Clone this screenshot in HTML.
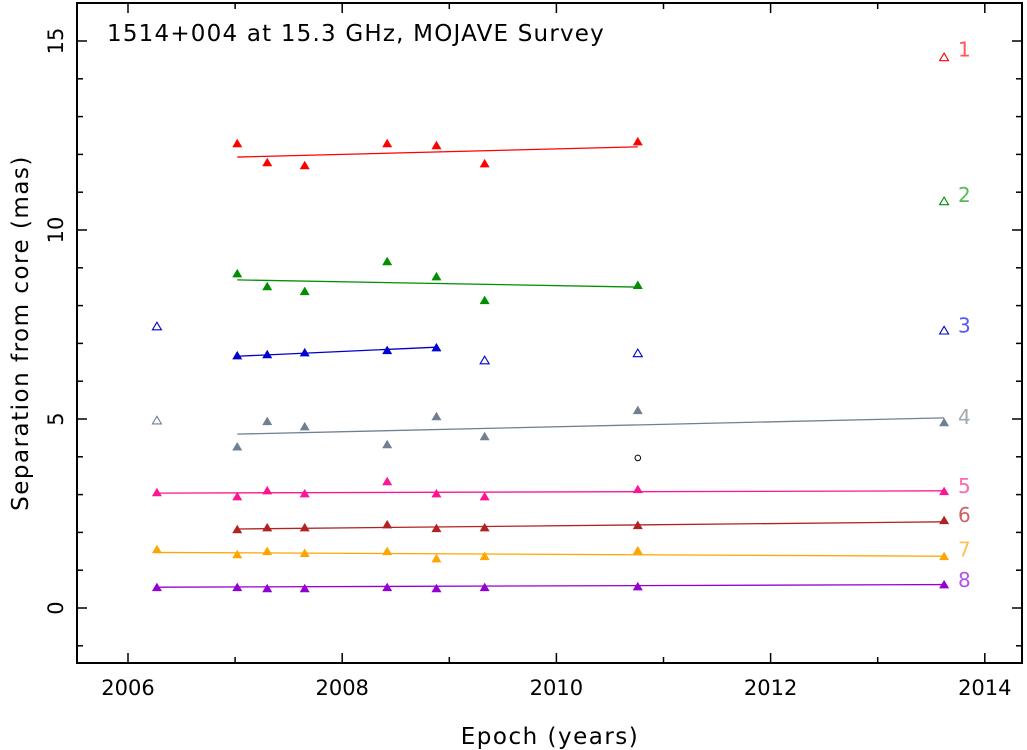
<!DOCTYPE html>
<html><head><meta charset="utf-8"><style>
html,body{margin:0;padding:0;background:#fff;}
svg{display:block;font-family:"DejaVu Sans","Liberation Sans",sans-serif;}
</style></head><body>
<svg id="chart" width="1027" height="750" viewBox="0 0 1027 750" xmlns="http://www.w3.org/2000/svg">
<rect x="0" y="0" width="1027" height="750" fill="#fff"/>
<g id="marks"></g>
<rect x="77" y="3" width="945" height="660" fill="none" stroke="#000" stroke-width="2"/>
<g id="axes"></g>
<text x="107" y="41" font-size="23" letter-spacing="1.2" fill="#000">1514+004 at 15.3 GHz, MOJAVE Survey</text>
<text x="550" y="744" font-size="23" letter-spacing="1.5" text-anchor="middle" fill="#000">Epoch (years)</text>
<text x="0" y="0" font-size="23" letter-spacing="1.5" text-anchor="middle" fill="#000" transform="translate(28,333) rotate(-90)">Separation from core (mas)</text>
</svg>
<script>
const epochs = [2006.27, 2007.02, 2007.30, 2007.65, 2008.42, 2008.88, 2009.33, 2010.76, 2013.62];
const compNames = ["1","2","3","4","5","6","7","8"];
const compColors = ["#ff0000","#008f00","#0000cd","#708090","#ff1493","#b22222","#ffa500","#9400d3"];
const labelColors = ["#ff5555","#55bb55","#5555ff","#a0a8b0","#ff66b0","#d06060","#ffc050","#b850e8"];
const comp1 = [null,12.30,11.80,11.72,12.30,12.25,11.77,12.35,null];
const comp2 = [null,8.86,8.52,8.39,9.18,8.78,8.15,8.55,null];
const comp3 = [null,6.69,6.72,6.77,6.83,6.90,null,null,null];
const comp4 = [null,4.28,4.95,4.81,4.34,5.08,4.55,5.24,4.92];
const comp5 = [3.07,2.96,3.12,3.04,3.36,3.04,2.96,3.15,3.10];
const comp6 = [null,2.09,2.14,2.14,2.22,2.12,2.14,2.20,2.33];
const comp7 = [1.56,1.43,1.51,1.46,1.51,1.32,1.38,1.53,1.38];
const comp8 = [0.56,0.56,0.53,0.53,0.56,0.53,0.56,0.58,0.63];
const openComp = [0, 1, 2, 2, 2, 2, 3];
const openEpoch = [2013.62, 2013.62, 2006.27, 2009.33, 2010.76, 2013.62, 2006.27];
const openValue = [14.58, 10.77, 7.46, 6.56, 6.75, 7.35, 4.97];
const circleEpoch = [2010.76];
const circleValue = [3.97];
const fitStart = [2007.02,2007.02,2007.02,2007.02,2006.27,2007.02,2006.27,2006.27];
const fitEnd = [2010.76,2010.76,2008.88,2013.62,2013.62,2013.62,2013.62,2013.62];
const fitStartVal = [11.93,8.68,6.66,4.60,3.04,2.09,1.47,0.55];
const fitEndVal = [12.20,8.49,6.90,5.03,3.10,2.28,1.37,0.62];
const labelValue = [14.75,10.9,7.45,5.02,3.2,2.44,1.52,0.72];
const xTicks = [2006,2008,2010,2012,2014];
const yTicks = [0,5,10,15];

const X = e => 128 + (e - 2006) * 107.1;
const Y = v => 608 - v * 37.8;
const NS = "http://www.w3.org/2000/svg";
const marks = document.getElementById("marks");
const axes = document.getElementById("axes");
function mk(tag, attrs, parent){const el=document.createElementNS(NS,tag);for(const k in attrs)el.setAttribute(k,attrs[k]);parent.appendChild(el);return el;}
function tri(x,y,s){return `${x-s},${y+s*0.85} ${x+s},${y+s*0.85} ${x},${y-s*0.85}`;}

const comps = [comp1,comp2,comp3,comp4,comp5,comp6,comp7,comp8];
comps.forEach((arr,ci)=>{
  const ln = mk("line",{x1:X(fitStart[ci]),y1:Y(fitStartVal[ci]),x2:X(fitEnd[ci]),y2:Y(fitEndVal[ci]),stroke:compColors[ci],"stroke-width":1.3},marks);
  
  
  arr.forEach((v,i)=>{
    if(v===null) return;
    const p = mk("polygon",{points:tri(X(epochs[i]),Y(v),5),fill:compColors[ci]},marks);
    
    
  });
  const t = mk("text",{x:958,y:Y(labelValue[ci])+6,"font-size":20,fill:labelColors[ci]},marks);
  t.textContent = compNames[ci];
  
  
});
openComp.forEach((ci,i)=>{
  const p = mk("polygon",{points:tri(X(openEpoch[i]),Y(openValue[i]),4.5),fill:"none",stroke:compColors[ci],"stroke-width":1.1},marks);
  
  
});
circleEpoch.forEach((e,i)=>{
  const c = mk("circle",{cx:X(e),cy:Y(circleValue[i]),r:2.8,fill:"none",stroke:"#000","stroke-width":1},marks);
  
  
});
for(let yr=2006; yr<=2014; yr++){
  const major = xTicks.includes(yr);
  const len = major?10:6;
  mk("line",{x1:X(yr),y1:663,x2:X(yr),y2:663-len,stroke:"#000","stroke-width":1.5},axes);
  mk("line",{x1:X(yr),y1:3,x2:X(yr),y2:3+len,stroke:"#000","stroke-width":1.5},axes);
}
xTicks.forEach(t=>{
  const el = mk("text",{x:X(t),y:695,"font-size":21,"text-anchor":"middle",fill:"#000"},axes);
  el.textContent = t;
  
  
});
for(let v=-1; v<=16; v++){
  const major = yTicks.includes(v);
  const len = major?10:6;
  mk("line",{x1:77,y1:Y(v),x2:77+len,y2:Y(v),stroke:"#000","stroke-width":1.5},axes);
  mk("line",{x1:1022,y1:Y(v),x2:1022-len,y2:Y(v),stroke:"#000","stroke-width":1.5},axes);
}
yTicks.forEach(t=>{
  const el = mk("text",{x:0,y:0,"font-size":21,"text-anchor":"middle",fill:"#000",transform:`translate(63,${Y(t)}) rotate(-90)`},axes);
  el.textContent = t;
  
  
});
</script>
</body></html>
